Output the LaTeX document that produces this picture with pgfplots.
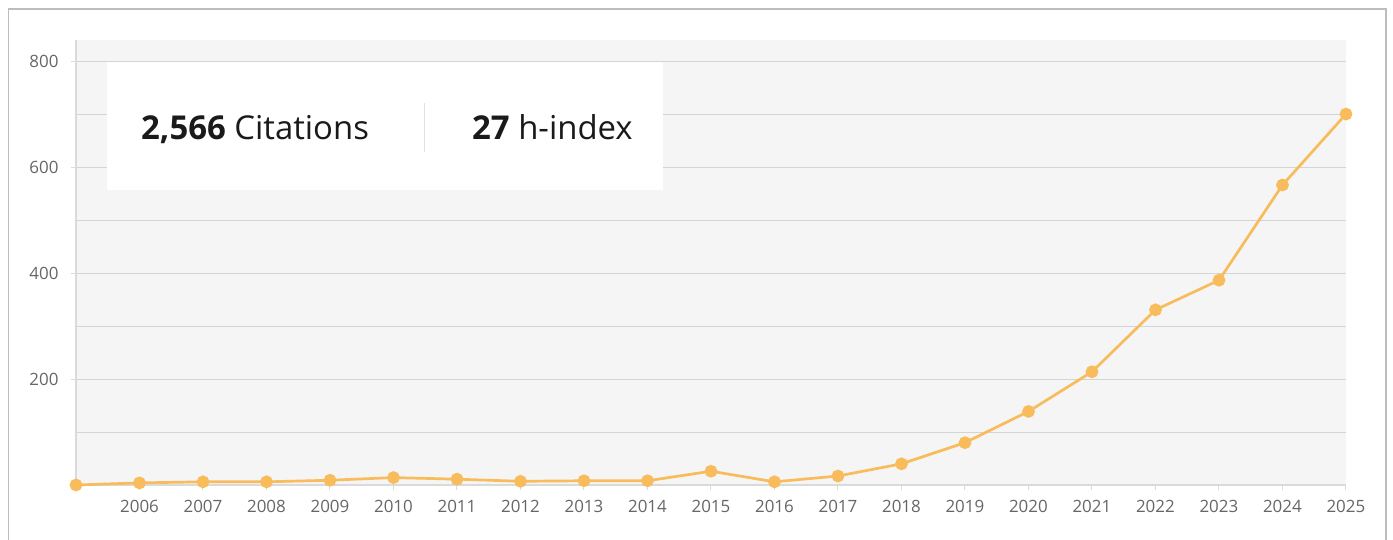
\documentclass[border=0pt]{standalone}
\usepackage{pgfplots}
\pgfplotsset{compat=1.18}
\usepackage{fontspec}
\setmainfont{Open Sans}
\definecolor{linec}{HTML}{F8BC5C}
\definecolor{bgc}{HTML}{F5F5F5}
\definecolor{gridc}{HTML}{D4D4D4}
\definecolor{axc}{HTML}{DADADA}
\definecolor{tickc}{HTML}{666666}
\definecolor{framec}{HTML}{BDBDBD}
\definecolor{txtc}{HTML}{1A1A1A}
\begin{document}
\begin{tikzpicture}[x=1bp,y=1bp]
\useasboundingbox (0,0) rectangle (1393,540);
\draw[framec, line width=1.5bp] (8.5,-5) -- (8.5,531) -- (1386,531) -- (1386,-5);
\begin{axis}[
  at={(76bp,55bp)}, anchor=south west,
  scale only axis, width=1270bp, height=445bp,
  xmin=2005, xmax=2025, ymin=0, ymax=841,
  axis background/.style={fill=bgc},
  axis x line*=bottom, axis y line*=left,
  axis line style={axc, line width=1.8bp},
  xtick={2006,...,2025},
  ytick={200,400,600,800},
  minor ytick={100,300,500,700},
  ymajorgrids, yminorgrids,
  major grid style={gridc, line width=1bp},
  minor grid style={gridc, line width=1bp},
  minor tick length=0pt,
  major tick length=5bp,
  tick align=outside,
  tick style={axc, line width=1bp},
  /pgf/number format/.cd, 1000 sep={}, assume math mode=true, /pgfplots/.cd,
  tick label style={font=\fontsize{17}{17}\selectfont, text=tickc},
  xticklabel shift=7bp,
  yticklabel shift=9bp,
  clip=false,
]
\addplot[linec, line width=2.7bp, mark=*, mark size=5bp,
  mark options={fill=linec, draw=linec}] coordinates {
  (2005,0) (2006,4) (2007,6) (2008,6) (2009,9) (2010,14) (2011,11)
  (2012,7) (2013,8) (2014,8) (2015,26) (2016,6) (2017,17) (2018,40)
  (2019,80) (2020,139) (2021,214) (2022,331) (2023,387) (2024,567) (2025,701)
};
\end{axis}
\fill[white] (107,350) rectangle (663,478);
\draw[gridc!70, line width=1bp] (424,388) -- (424,437);
\node[anchor=base west, inner sep=0pt, text=txtc, font=\fontsize{33}{33}\selectfont] at (141,400) {\textbf{2,566} Citations};
\node[anchor=base west, inner sep=0pt, text=txtc, font=\fontsize{33}{33}\selectfont] at (472,400) {\textbf{27} h-index};
\end{tikzpicture}
\end{document}
